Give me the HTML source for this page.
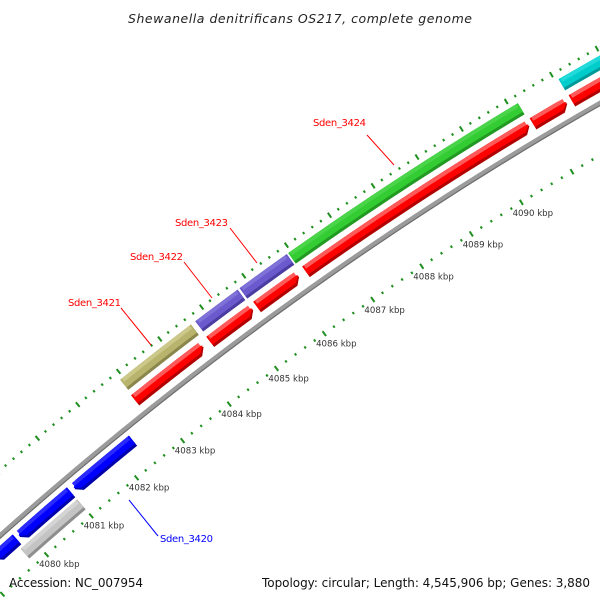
<!DOCTYPE html>
<html><head><meta charset="utf-8"><style>
html,body{margin:0;padding:0;background:#fff;width:600px;height:600px;overflow:hidden}
svg{display:block;font-family:"DejaVu Sans","Liberation Sans",sans-serif;overflow:hidden}
</style></head><body>
<svg id="map" width="600" height="600" viewBox="0 0 600 600" xmlns="http://www.w3.org/2000/svg">
<rect x="0" y="0" width="600" height="600" fill="#fff"/>
<g id="rings"></g>
<g id="feats"></g>
<g id="labels"></g>
<text x="300" y="23" text-anchor="middle" font-size="12.5" font-style="italic" fill="#222" textLength="344">Shewanella denitrificans OS217, complete genome</text>
<text x="9" y="587" font-size="12" fill="#111" textLength="134">Accession: NC_007954</text>
<text x="590" y="587" text-anchor="end" font-size="12" fill="#111" textLength="328">Topology: circular; Length: 4,545,906 bp; Genes: 3,880</text>
</svg>
<script>
// data (kbp)
const fwdStart = [4082.80, 4084.38, 4085.35, 4086.35, 4090.85, 4091.60];
const fwdEnd   = [4084.24, 4085.27, 4086.21, 4090.78, 4091.51, 4093.50];
const outerStart = [4082.82, 4084.39, 4085.30, 4086.29, 4091.59];
const outerEnd   = [4084.30, 4085.26, 4086.26, 4090.81, 4093.50];
const outerColors = ["#b8b46e", "#6a5acd", "#6a5acd", "#33cc33", "#00cccc"];
const revStart = [4079.30, 4079.86, 4081.08];
const revEnd   = [4079.80, 4081.00, 4082.35];
const grayStart = [4079.74];
const grayEnd   = [4081.00];
const kbpLabels = [4080, 4081, 4082, 4083, 4084, 4085, 4086, 4087, 4088, 4089, 4090];

const NS = "http://www.w3.org/2000/svg";
const CX = 2360, CY = 3177, R = 3542;
function pt(k, r) {
  const phi = (31.72 + (4090 - k) * 0.97) * Math.PI / 180;
  return [CX - r * Math.sin(phi), CY - r * Math.cos(phi)];
}
function mk(tag, attrs, parent) {
  const e = document.createElementNS(NS, tag);
  for (const a in attrs) e.setAttribute(a, attrs[a]);
  parent.appendChild(e);
  return e;
}
function arcPts(k1, k2, r) {
  const out = [], n = Math.max(2, Math.ceil(Math.abs(k2 - k1) * 4));
  for (let i = 0; i <= n; i++) out.push(pt(k1 + (k2 - k1) * i / n, r));
  return out;
}
function shapePath(k1, k2, ri, ro, dir) {
  const h = 0.11, rc = (ri + ro) / 2;
  let p = [];
  if (dir === 1) {
    const b = Math.max(k1, k2 - h);
    p = arcPts(k1, b, ro).concat([pt(k2, rc)]).concat(arcPts(b, k1, ri));
  } else if (dir === -1) {
    const a = Math.min(k2, k1 + h);
    p = [pt(k1, rc)].concat(arcPts(a, k2, ro)).concat(arcPts(k2, a, ri));
  } else {
    p = arcPts(k1, k2, ro).concat(arcPts(k2, k1, ri));
  }
  return "M" + p.map(q => q[0].toFixed(2) + "," + q[1].toFixed(2)).join("L") + "Z";
}
const rings = document.getElementById("rings");
const feats = document.getElementById("feats");
const labels = document.getElementById("labels");

// backbone
const bb = mk("path", {d: "M" + arcPts(4076, 4094, R).map(q => q.join(",")).join("L"), fill: "none", stroke: "#9b9b9b", "stroke-width": 5}, rings);


const bb2 = mk("path", {d: "M" + arcPts(4076, 4094, R - 2).map(q => q.join(",")).join("L"), fill: "none", stroke: "#6e6e6e", "stroke-width": 1.2}, rings);



// tick rings
function tick(k, r, len, parent, name) {
  const a = pt(k, r - len / 2), b = pt(k, r + len / 2);
  const t = mk("line", {x1: a[0], y1: a[1], x2: b[0], y2: b[1], stroke: "#1f8f1f", "stroke-width": 2}, parent);
  
  
}
for (let i = 0; i <= 90; i++) {
  const k = 4076 + i * 0.2;
  const major = Math.abs(k - Math.round(k)) < 1e-6;
  tick(k, R - 45, major ? 6 : 2.5, rings, major ? "inner-major-tick" : "inner-minor-tick");
}
const outerPeriod = 0.864;
for (let i = -40; i <= 70; i++) {
  const k = 4082.02 + i * outerPeriod / 5;
  const major = (i % 5 === 0);
  tick(k, R + 49, major ? 6 : 2.5, rings, major ? "outer-major-tick" : "outer-minor-tick");
}
kbpLabels.forEach(k => {
  const p = pt(k, R - 55);
  const t = mk("text", {x: (p[0] - 14).toFixed(1), y: (p[1] + 5).toFixed(1), "font-size": 8.6, fill: "#333"}, labels);
  t.textContent = k + " kbp";
  
  
});

// features
function feature(k1, k2, rc, w, dir, dark, main, light, name) {
  const ri = rc - w / 2, ro = rc + w / 2;
  const g = mk("g", {}, feats);
  
  
  mk("path", {d: shapePath(k1, k2, ri, ro, dir), fill: dark}, g);
  mk("path", {d: shapePath(k1, k2, ri + 3, ro, dir), fill: main}, g);
  mk("path", {d: shapePath(k1 + 0.03, k2 - 0.03, ro - 4, ro, 0), fill: light}, g);
}
fwdStart.forEach((s, i) => feature(s, fwdEnd[i], R + 16, 13, 1, "#b00000", "#ff0000", "#ff5a5a", "forward-gene"));
outerStart.forEach((s, i) => {
  const c = outerColors[i];
  const shades = {"#b8b46e": ["#8a864c", "#ccc88a"], "#6a5acd": ["#4a3ca0", "#7e72d8"], "#33cc33": ["#229922", "#4ad44a"], "#00cccc": ["#009999", "#22dada"]}[c];
  feature(s, outerEnd[i], R + 35, 13, 0, shades[0], c, shades[1], "outer-gene");
});
revStart.forEach((s, i) => feature(s, revEnd[i], R - 14, 13, -1, "#0000aa", "#0000ff", "#2a2aff", "reverse-gene"));
grayStart.forEach((s, i) => feature(s, grayEnd[i], R - 30, 13, 0, "#8e8e8e", "#c4c4c4", "#d4d4d4", "gray-gene"));

// gene labels + leader lines
const geneLabels = [
  ["Sden_3424", 313, 126, 367, 135, 394, 165, "#ff0000"],
  ["Sden_3423", 175, 226, 230, 228, 257, 263, "#ff0000"],
  ["Sden_3422", 130, 260, 184, 262, 212, 298, "#ff0000"],
  ["Sden_3421", 68, 306, 121, 308, 151, 345, "#ff0000"],
  ["Sden_3420", 160, 542, 158, 536, 129, 500, "#0000ff"]
];
geneLabels.forEach(l => {
  const ln = mk("line", {x1: l[3], y1: l[4], x2: l[5], y2: l[6], stroke: l[7], "stroke-width": 1}, labels);
  
  
  const t = mk("text", {x: l[1], y: l[2], "font-size": 10, fill: l[7], textLength: 53}, labels);
  t.textContent = l[0];
  
  
});
</script>
</body></html>
